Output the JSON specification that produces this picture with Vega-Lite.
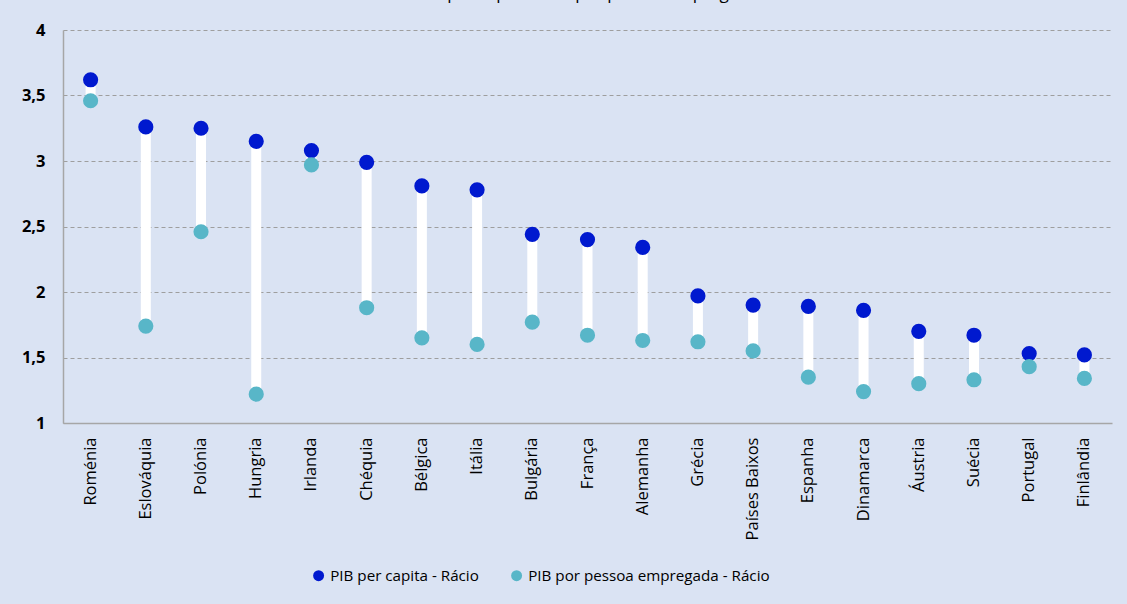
{
  "$schema": "https://vega.github.io/schema/vega-lite/v6.json",
  "autosize": {"type": "none"},
  "width": 1049,
  "height": 393,
  "padding": {"left": 63, "top": 30, "right": 15, "bottom": 181},
  "background": "#DAE3F3",
  "title": {
    "text": "PIB per capita e PIB por pessoa empregada",
    "fontSize": 17,
    "font": "Open Sans",
    "fontWeight": "normal",
    "color": "#000000",
    "offset": 19,
    "anchor": "middle"
  },
  "data": {
    "values": [
      {"pais": "Roménia", "capita": 3.62, "empregada": 3.46},
      {"pais": "Eslováquia", "capita": 3.26, "empregada": 1.74},
      {"pais": "Polónia", "capita": 3.25, "empregada": 2.46},
      {"pais": "Hungria", "capita": 3.15, "empregada": 1.22},
      {"pais": "Irlanda", "capita": 3.08, "empregada": 2.97},
      {"pais": "Chéquia", "capita": 2.99, "empregada": 1.88},
      {"pais": "Bélgica", "capita": 2.81, "empregada": 1.65},
      {"pais": "Itália", "capita": 2.78, "empregada": 1.60},
      {"pais": "Bulgária", "capita": 2.44, "empregada": 1.77},
      {"pais": "França", "capita": 2.40, "empregada": 1.67},
      {"pais": "Alemanha", "capita": 2.34, "empregada": 1.63},
      {"pais": "Grécia", "capita": 1.97, "empregada": 1.62},
      {"pais": "Países Baixos", "capita": 1.90, "empregada": 1.55},
      {"pais": "Espanha", "capita": 1.89, "empregada": 1.35},
      {"pais": "Dinamarca", "capita": 1.86, "empregada": 1.24},
      {"pais": "Áustria", "capita": 1.70, "empregada": 1.30},
      {"pais": "Suécia", "capita": 1.67, "empregada": 1.33},
      {"pais": "Portugal", "capita": 1.53, "empregada": 1.43},
      {"pais": "Finlândia", "capita": 1.52, "empregada": 1.34}
    ]
  },
  "encoding": {
    "x": {
      "field": "pais",
      "type": "nominal",
      "sort": null,
      "scale": {"paddingInner": 0, "paddingOuter": 0},
      "axis": {
        "title": null,
        "labelAngle": -90,
        "labelAlign": "right",
        "labelBaseline": "middle",
        "labelFont": "Open Sans",
        "labelFontSize": 16.5,
        "labelColor": "#000000",
        "labelPadding": 14,
        "ticks": false,
        "domainColor": "#A6A6A6",
        "domainWidth": 1.5,
        "grid": false
      }
    }
  },
  "layer": [
    {
      "mark": {"type": "rule", "color": "#FFFFFF", "strokeWidth": 10},
      "encoding": {
        "y": {"field": "empregada", "type": "quantitative"},
        "y2": {"field": "capita"}
      }
    },
    {
      "transform": [
        {"fold": ["capita", "empregada"], "as": ["serie", "valor"]},
        {"lookup": "serie", "from": {"data": {"values": [
          {"serie": "capita", "nome": "PIB per capita - Rácio"},
          {"serie": "empregada", "nome": "PIB por pessoa empregada - Rácio"}
        ]}, "key": "serie", "fields": ["nome"]}}
      ],
      "mark": {"type": "circle", "size": 230, "opacity": 1},
      "encoding": {
        "y": {
          "field": "valor",
          "type": "quantitative",
          "scale": {"domain": [1, 4], "nice": false, "zero": false},
          "axis": {
            "title": null,
            "values": [1, 1.5, 2, 2.5, 3, 3.5, 4],
            "format": ",.1~f",
            "labelExpr": "replace(datum.label, '.', ',')",
            "labelFont": "Open Sans",
            "labelFontSize": 16.5,
            "labelFontWeight": "bold",
            "labelColor": "#000000",
            "labelPadding": 18,
            "ticks": false,
            "domainColor": "#A6A6A6",
            "domainWidth": 1.5,
            "gridColor": "#9E9E9E",
            "gridDash": [4, 3],
            "gridWidth": 1
          }
        },
        "color": {
          "field": "nome",
          "type": "nominal",
          "scale": {
            "domain": ["PIB per capita - Rácio", "PIB por pessoa empregada - Rácio"],
            "range": ["#0019CF", "#58B6C8"]
          },
          "legend": {
            "title": null,
            "orient": "none",
            "legendX": 248,
            "legendY": 538,
            "direction": "horizontal",
            "symbolType": "circle",
            "symbolSize": 120,
            "symbolOpacity": 1,
            "labelFont": "Open Sans",
            "labelFontSize": 15.2,
            "labelColor": "#000000",
            "labelOffset": 4,
            "columnPadding": 30,
            "labelLimit": 400
          }
        }
      }
    }
  ],
  "config": {
    "view": {"stroke": null}
  }
}
